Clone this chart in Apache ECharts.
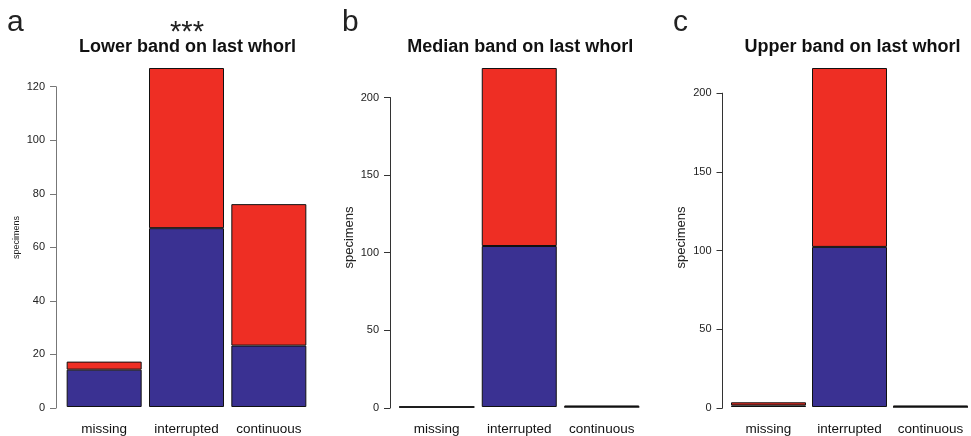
<!DOCTYPE html>
<html>
<head>
<meta charset="utf-8">
<script src="https://cdn.jsdelivr.net/npm/echarts@6/dist/echarts.min.js"></script>
<style>
  html, body { margin: 0; padding: 0; background: #fff; }
  #main { width: 971px; height: 436px; }
</style>
</head>
<body>
<div id="main"></div>
<script>
var categories = ['missing', 'interrupted', 'continuous'];
var panelLetters = ['a', 'b', 'c'];
var panelTitles = ['Lower band on last whorl', 'Median band on last whorl', 'Upper band on last whorl'];
var lowerBlue = [14, 67, 23];
var lowerRed = [3, 60, 53];
var medianBlue = [0, 104, 0];
var medianRed = [0, 115, 1];
var upperBlue = [1, 102, 0];
var upperRed = [2, 114, 1];
var tickMax = [120, 200, 200];
var tickStep = [20, 50, 50];

(function () {
    var FONT = "'Liberation Sans', Arial, Helvetica, sans-serif";
    var BLUE = '#3a3192', RED = '#ee2e24';
    var bottom = 28, dataTop = 68, H = 436;
    // layout of each panel (plot area, axis line position)
    var panels = [
        {left: 63, width: 247, axisX: 56, nameGap: 42, nameSize: 9, axisColor: '#777', letterX: 2, blue: lowerBlue, red: lowerRed},
        {left: 395.5, width: 247.5, axisX: 390, nameGap: 40, nameSize: 13, axisColor: '#333', letterX: 337, blue: medianBlue, red: medianRed},
        {left: 728, width: 247, axisX: 722.5, nameGap: 40, nameSize: 13, axisColor: '#333', letterX: 668, blue: upperBlue, red: upperRed}
    ];

    var grids = [], xAxes = [], yAxes = [], series = [], titles = [];
    panels.forEach(function (p, i) {
        var totals = p.blue.map(function (v, k) { return v + p.red[k]; });
        var dataMax = Math.max.apply(null, totals);
        var plotH = H - bottom - dataTop;
        var axisTop = (H - bottom) - plotH * tickMax[i] / dataMax;

        // data grid
        grids.push({left: p.left, width: p.width, top: dataTop, bottom: bottom});
        xAxes.push({
            type: 'category', gridIndex: 2 * i, data: categories,
            axisLine: {show: false}, axisTick: {show: false},
            axisLabel: {color: '#111', fontSize: 13.5, fontFamily: FONT, margin: 15, interval: 0}
        });
        yAxes.push({
            type: 'value', gridIndex: 2 * i, min: 0, max: dataMax,
            axisLine: {show: false}, axisTick: {show: false}, axisLabel: {show: false},
            splitLine: {show: false},
            name: 'specimens', nameLocation: 'middle', nameGap: p.nameGap,
            nameTextStyle: {fontSize: p.nameSize, color: '#222', fontFamily: FONT}
        });
        // axis-only grid, spans 0..last tick like R's axis()
        grids.push({left: p.axisX, width: 10, top: axisTop, bottom: bottom});
        xAxes.push({type: 'category', gridIndex: 2 * i + 1, data: [''], show: false});
        yAxes.push({
            type: 'value', gridIndex: 2 * i + 1, min: 0, max: tickMax[i], interval: tickStep[i],
            axisLine: {show: true, lineStyle: {color: p.axisColor, width: 1}},
            axisTick: {show: true, inside: false, length: 6, lineStyle: {color: p.axisColor}},
            axisLabel: {color: '#222', fontSize: 11, fontFamily: FONT, margin: 11},
            splitLine: {show: false}
        });

        ['blue', 'red'].forEach(function (key) {
            series.push({
                type: 'bar', xAxisIndex: 2 * i, yAxisIndex: 2 * i,
                stack: 'panel' + i, data: p[key], barWidth: 75,
                itemStyle: {color: key === 'blue' ? BLUE : RED, borderColor: '#111', borderWidth: 1},
                silent: true
            });
        });

        var cx = p.left + p.width / 2 - 4;
        titles.push({
            text: panelTitles[i], left: cx, top: 33, textAlign: 'center',
            textStyle: {fontSize: 18, fontWeight: 'bold', color: '#111', fontFamily: FONT}
        });
        titles.push({
            text: panelLetters[i], left: p.letterX, top: 3,
            textStyle: {fontSize: 30, fontWeight: 'normal', color: '#222', fontFamily: FONT}
        });
    });
    titles.push({
        text: '***', left: 182, top: 13, textAlign: 'center',
        textStyle: {fontSize: 29, fontWeight: 'normal', color: '#222', fontFamily: FONT}
    });

    var myChart = echarts.init(document.getElementById('main'), null, {renderer: 'canvas'});
    myChart.setOption({
        animation: false,
        backgroundColor: '#fff',
        title: titles,
        grid: grids,
        xAxis: xAxes,
        yAxis: yAxes,
        series: series
    });
}());
</script>
</body>
</html>
